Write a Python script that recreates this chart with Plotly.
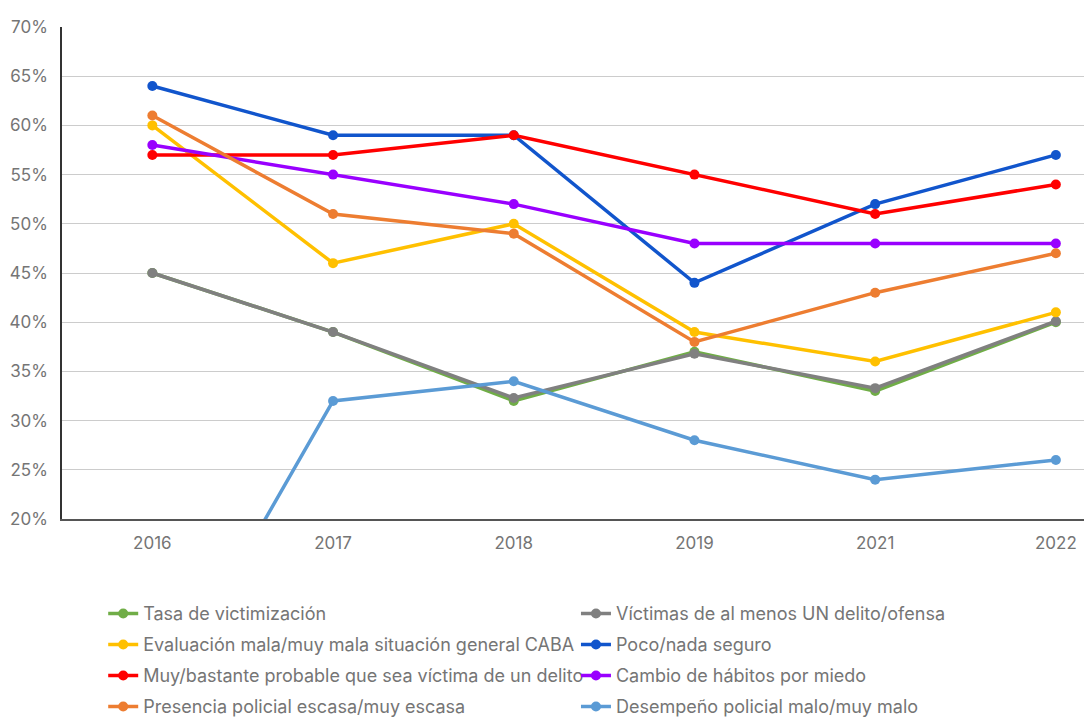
import plotly.graph_objects as go

years = ["2016", "2017", "2018", "2019", "2021", "2022"]

tasa_victimizacion = [45, 39, 32.0, 37.0, 33.0, 40.0]
victimas_un_delito = [45, 39, 32.3, 36.8, 33.3, 40.1]
evaluacion_mala = [60, 46, 50, 39, 36, 41]
poco_nada_seguro = [64, 59, 59, 44, 52, 57]
probable_victima = [57, 57, 59, 55, 51, 54]
cambio_habitos = [58, 55, 52, 48, 48, 48]
presencia_policial = [61, 51, 49, 38, 43, 47]
desempeno_policial = [0, 32, 34, 28, 24, 26]

series = [
    ("Tasa de victimización", tasa_victimizacion, "#70AD47"),
    ("Víctimas de al menos UN delito/ofensa", victimas_un_delito, "#808080"),
    ("Evaluación mala/muy mala situación general CABA", evaluacion_mala, "#FFC000"),
    ("Poco/nada seguro", poco_nada_seguro, "#1155CC"),
    ("Muy/bastante probable que sea víctima de un delito", probable_victima, "#FF0000"),
    ("Cambio de hábitos por miedo", cambio_habitos, "#9900FF"),
    ("Presencia policial escasa/muy escasa", presencia_policial, "#ED7D31"),
    ("Desempeño policial malo/muy malo", desempeno_policial, "#5B9BD5"),
]

fig = go.Figure()
for i, (name, vals, color) in enumerate(series):
    fig.add_trace(go.Scatter(
        x=years, y=vals, name=name, mode="lines+markers",
        line=dict(color=color, width=3.5),
        marker=dict(color=color, size=10),
        cliponaxis=True,
        legend="legend" if i % 2 == 0 else "legend2",
        legendgroup=f"g{i}",
    ))

font_family = "Inter, Roboto, sans-serif"
legend_common = dict(
    orientation="v", yanchor="top", xanchor="left",
    traceorder="grouped", tracegroupgap=4.6,
    font=dict(size=18, color="#757575"),
    itemwidth=30, bgcolor="rgba(0,0,0,0)",
)
fig.update_layout(
    width=1084, height=711,
    margin=dict(l=54, r=0, t=19, b=200, autoexpand=False),
    paper_bgcolor="white", plot_bgcolor="white",
    font=dict(family=font_family, size=17, color="#757575"),
    showlegend=True,
    legend=dict(x=0.04, y=-0.155, **legend_common),
    legend2=dict(x=0.499, y=-0.155, **legend_common),
)
fig.update_xaxes(
    type="category", range=[-0.5, 5.2],
    showline=True, linecolor="#555555", linewidth=1.5,
    showgrid=False, ticks="", ticklabelstandoff=8,
    tickfont=dict(size=17, color="#757575"),
)
fig.update_yaxes(
    range=[20, 70], dtick=5, tick0=20, ticksuffix="%",
    showline=True, linecolor="#333333", linewidth=1.5,
    showgrid=True, gridcolor="#CCCCCC", gridwidth=1,
    zeroline=False, ticks="", ticklabelstandoff=9,
    tickfont=dict(size=17, color="#757575"),
)

fig.write_html("out.html")
